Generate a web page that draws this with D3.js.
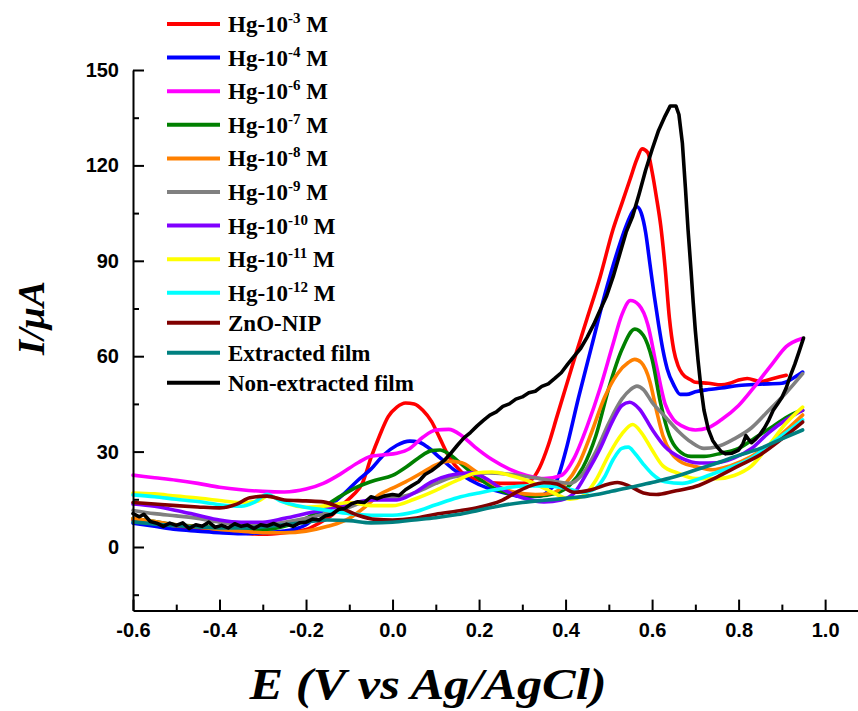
<!DOCTYPE html>
<html>
<head>
<meta charset="utf-8">
<script src="https://cdn.jsdelivr.net/npm/d3@7"></script>
<style>
  html, body { margin: 0; padding: 0; background: #fff; }
  svg { display: block; }
</style>
</head>
<body>
<svg id="chart" width="858" height="711"></svg>
<script>
// ---------- DATA ----------
const seriesNames = ["Hg-10^-3 M","Hg-10^-4 M","Hg-10^-6 M","Hg-10^-7 M","Hg-10^-8 M","Hg-10^-9 M","Hg-10^-10 M","Hg-10^-11 M","Hg-10^-12 M","ZnO-NIP","Extracted film","Non-extracted film"];
const legendBase = ["Hg-10","Hg-10","Hg-10","Hg-10","Hg-10","Hg-10","Hg-10","Hg-10","Hg-10","ZnO-NIP","Extracted film","Non-extracted film"];
const legendSup  = ["-3","-4","-6","-7","-8","-9","-10","-11","-12","","",""];
const legendTail = [" M"," M"," M"," M"," M"," M"," M"," M"," M","","",""];
const seriesColors = ["#FF0000","#0000FF","#FF00FF","#008000","#FF8000","#808080","#8000FF","#FFFF00","#00FFFF","#800000","#008080","#000000"];

const xTicks = [-0.6,-0.4,-0.2,0.0,0.2,0.4,0.6,0.8,1.0];
const xTickLabels = ["-0.6","-0.4","-0.2","0.0","0.2","0.4","0.6","0.8","1.0"];
const xMinorTicks = [-0.5,-0.3,-0.1,0.1,0.3,0.5,0.7,0.9];
const yTicks = [0,30,60,90,120,150];
const yTickLabels = ["0","30","60","90","120","150"];
const yMinorTicks = [-15,15,45,75,105,135];

// [E (V), I (uA)]
const hg3 = [[-0.6,8.5],[-0.55,7.5],[-0.5,6.5],[-0.45,5.5],[-0.4,5],[-0.35,4.5],[-0.3,4],[-0.25,4.5],[-0.2,5.5],[-0.17,7.5],[-0.14,10],[-0.11,14],[-0.09,16.5],[-0.07,20],[-0.05,28],[-0.03,35],[-0.01,41],[0.01,44],[0.03,45.3],[0.05,45],[0.07,43],[0.09,39.5],[0.11,34],[0.13,28.5],[0.16,23.5],[0.2,21],[0.25,20],[0.3,20],[0.32,21],[0.34,25],[0.36,32],[0.38,41],[0.4,50],[0.42,59],[0.45,72],[0.48,85],[0.51,100],[0.53,108],[0.55,116],[0.565,122],[0.577,125.2],[0.59,124],[0.6,118],[0.61,110],[0.62,101],[0.63,88],[0.64,72],[0.65,62],[0.66,57],[0.67,54.5],[0.69,52.5],[0.7,51.8],[0.73,51.5],[0.76,51],[0.78,51.5],[0.8,52.5],[0.82,53],[0.85,52],[0.88,53],[0.91,54]];
const hg4 = [[-0.6,7.5],[-0.55,6.5],[-0.5,5.5],[-0.45,5],[-0.4,4.5],[-0.35,4.2],[-0.3,4.5],[-0.25,5],[-0.2,7],[-0.17,10.5],[-0.14,13.5],[-0.11,17],[-0.08,21],[-0.05,24.5],[-0.02,29],[0.01,32],[0.04,33.3],[0.06,33],[0.08,31.5],[0.11,28],[0.14,24.5],[0.18,21],[0.22,18.5],[0.26,17],[0.3,15.8],[0.34,16],[0.36,17.5],[0.38,21],[0.4,30],[0.43,47],[0.46,63],[0.49,79],[0.52,93],[0.54,101],[0.555,105.5],[0.565,107],[0.575,105],[0.585,99],[0.595,89],[0.605,79],[0.615,70],[0.625,62],[0.635,56],[0.65,51],[0.665,48],[0.68,48],[0.7,48.8],[0.73,49.5],[0.76,50],[0.8,50.8],[0.85,51.2],[0.9,51.5],[0.925,53],[0.948,55]];
const hg6 = [[-0.6,22.6],[-0.55,21.8],[-0.5,21],[-0.45,20],[-0.4,18.8],[-0.35,18],[-0.3,17.5],[-0.25,17.3],[-0.2,18.2],[-0.16,20],[-0.12,23],[-0.08,26.5],[-0.05,28.5],[-0.02,29],[0.01,29.5],[0.04,31],[0.07,34.5],[0.1,36.8],[0.13,37],[0.16,35],[0.19,31.5],[0.23,27.5],[0.27,24.5],[0.31,22.5],[0.35,21.5],[0.39,22.5],[0.42,28],[0.45,38],[0.48,50],[0.51,64],[0.53,73],[0.55,77.5],[0.57,76],[0.59,70],[0.61,57],[0.63,45],[0.65,40],[0.67,38],[0.7,36.8],[0.73,37.5],[0.76,40],[0.8,44.5],[0.84,51],[0.88,58],[0.91,63],[0.945,65.5]];
const hg7 = [[-0.6,9],[-0.55,8],[-0.5,7],[-0.45,6.5],[-0.4,6],[-0.35,5.5],[-0.3,5.5],[-0.25,6.5],[-0.2,9],[-0.16,12.5],[-0.12,16],[-0.08,19],[-0.04,21],[0.0,22.5],[0.03,25],[0.06,28],[0.09,30.3],[0.11,30.5],[0.13,29.3],[0.16,26],[0.2,21.5],[0.24,18.2],[0.28,16.5],[0.33,16],[0.38,17],[0.41,19.5],[0.44,25],[0.47,35],[0.5,50],[0.53,62],[0.56,68.5],[0.58,66.5],[0.6,59],[0.62,45],[0.64,35],[0.66,30.5],[0.69,28.5],[0.72,28.5],[0.76,29.5],[0.8,31],[0.84,34.5],[0.88,38],[0.92,41.5],[0.948,43]];
const hg8 = [[-0.6,9],[-0.55,8],[-0.5,7],[-0.45,6.3],[-0.4,5.5],[-0.35,5],[-0.3,4.5],[-0.25,4.5],[-0.2,5],[-0.15,6.5],[-0.1,9],[-0.06,13],[-0.03,16.5],[0.0,18.5],[0.03,20.5],[0.07,23.5],[0.1,25.8],[0.13,27],[0.16,26.5],[0.19,24],[0.23,20],[0.28,17.3],[0.33,16.5],[0.37,17],[0.4,20],[0.43,26],[0.46,36],[0.49,47],[0.52,54.5],[0.545,58],[0.56,59],[0.575,58],[0.595,52],[0.61,43],[0.625,35],[0.645,29.5],[0.67,26.5],[0.7,25.3],[0.74,24.3],[0.78,25.5],[0.83,28.5],[0.87,32],[0.9,35.5],[0.948,41.5]];
const hg9 = [[-0.6,11.5],[-0.55,10.5],[-0.5,9.8],[-0.45,9],[-0.4,7.8],[-0.35,7],[-0.3,7],[-0.25,7.8],[-0.2,9],[-0.15,10.7],[-0.1,12.5],[-0.06,14.5],[-0.02,15.3],[0.02,15.8],[0.06,17.5],[0.1,20],[0.14,22],[0.18,22.8],[0.22,23.3],[0.26,23],[0.3,22.3],[0.34,21.5],[0.38,20.5],[0.41,20],[0.44,23],[0.47,30],[0.5,39],[0.53,46.5],[0.55,49.5],[0.565,50.6],[0.58,49.5],[0.6,45.5],[0.63,41],[0.66,36.5],[0.69,33],[0.72,31],[0.75,31.5],[0.79,34],[0.83,37.5],[0.87,43],[0.91,48.5],[0.948,54.5]];
const hg10 = [[-0.6,13.5],[-0.55,12.8],[-0.5,11.5],[-0.45,10],[-0.4,8.5],[-0.35,7.8],[-0.3,7.8],[-0.25,9],[-0.2,10.5],[-0.15,12],[-0.1,13.5],[-0.05,14.8],[0.01,14.8],[0.05,17],[0.09,20.5],[0.13,22.5],[0.18,23.3],[0.21,22],[0.25,18.5],[0.3,15.5],[0.35,14.2],[0.39,14.8],[0.42,17],[0.45,23.5],[0.48,31],[0.51,40],[0.53,44.5],[0.548,45.5],[0.57,43.5],[0.6,37],[0.63,31.5],[0.67,27.8],[0.71,26.4],[0.75,26.5],[0.79,28],[0.83,31],[0.87,36],[0.91,40],[0.948,43]];
const hg11 = [[-0.6,17],[-0.55,16.7],[-0.5,16],[-0.45,15.4],[-0.4,14.6],[-0.35,14],[-0.31,14.5],[-0.29,16],[-0.27,15.5],[-0.24,13.5],[-0.2,12.5],[-0.15,13],[-0.1,14],[-0.05,13],[0.0,13],[0.05,15],[0.1,17.8],[0.15,21],[0.19,23.2],[0.23,23.6],[0.27,22.6],[0.31,21],[0.35,18.5],[0.38,16.5],[0.41,15],[0.44,16],[0.47,21],[0.5,29],[0.53,35.5],[0.555,38.5],[0.575,36],[0.6,30.5],[0.625,25.5],[0.66,23.2],[0.7,21.5],[0.75,21.5],[0.79,22.5],[0.83,25.5],[0.87,32],[0.91,39],[0.948,44]];
const hg12 = [[-0.6,16.4],[-0.55,15.8],[-0.5,15],[-0.45,14.3],[-0.4,13.3],[-0.35,12.8],[-0.32,14],[-0.29,16.6],[-0.26,14.5],[-0.22,13],[-0.15,11.5],[-0.1,10.5],[-0.05,10],[0.0,10],[0.05,11],[0.1,13.3],[0.15,15.5],[0.2,17],[0.25,18.3],[0.3,19.2],[0.35,19.2],[0.4,18.5],[0.44,17.2],[0.47,18.5],[0.49,22],[0.51,27.5],[0.53,31],[0.545,31.4],[0.56,29.5],[0.58,26],[0.6,23],[0.63,20.5],[0.67,20],[0.71,21.5],[0.75,23.5],[0.79,25.5],[0.83,28],[0.87,32],[0.91,36],[0.948,40]];
const znoNip = [[-0.6,14],[-0.55,13.5],[-0.5,13],[-0.45,12.6],[-0.4,12.3],[-0.36,13.5],[-0.33,15.5],[-0.29,16],[-0.25,14.8],[-0.2,14.5],[-0.16,14.2],[-0.12,12.3],[-0.08,10],[-0.04,8.7],[0.0,8.5],[0.05,9],[0.1,10.3],[0.15,11.3],[0.2,12.5],[0.25,14.5],[0.29,17.5],[0.32,19.3],[0.35,20.2],[0.38,19.8],[0.42,17.2],[0.46,18],[0.5,19.8],[0.52,20.3],[0.55,19],[0.58,17],[0.61,16.5],[0.65,17.5],[0.7,19],[0.75,22],[0.8,25.5],[0.85,29],[0.9,34],[0.948,39.3]];
const extracted = [[-0.6,7.9],[-0.55,7.2],[-0.5,6.7],[-0.45,6.3],[-0.4,6],[-0.35,6],[-0.3,6.3],[-0.25,7],[-0.2,7.8],[-0.15,8.5],[-0.1,8.3],[-0.05,7.6],[0.0,7.8],[0.05,8.5],[0.1,9.2],[0.15,10.2],[0.2,11.6],[0.25,13],[0.3,14],[0.35,14.7],[0.4,15.3],[0.45,16],[0.5,17.3],[0.55,18.8],[0.6,20.3],[0.65,22],[0.7,24.2],[0.75,26.4],[0.8,28.8],[0.85,31],[0.9,34],[0.948,36.8]];
const nonExtracted = [[-0.6,10.5],[-0.585,9.5],[-0.575,10.3],[-0.56,8],[-0.545,7.5],[-0.53,6.5],[-0.515,7.5],[-0.5,6.8],[-0.485,7.6],[-0.47,5.8],[-0.455,7],[-0.44,6.5],[-0.425,7.8],[-0.41,6.2],[-0.395,6.8],[-0.38,6],[-0.365,7.3],[-0.35,6.5],[-0.335,6.9],[-0.32,5.8],[-0.305,7],[-0.29,6.6],[-0.275,7.4],[-0.26,6.5],[-0.245,7.2],[-0.23,6.5],[-0.215,7.6],[-0.2,7.8],[-0.185,8.8],[-0.17,8.5],[-0.155,9.8],[-0.14,10.3],[-0.125,11.8],[-0.11,12.2],[-0.095,13.6],[-0.08,14.2],[-0.065,14],[-0.05,15.8],[-0.035,15.2],[-0.02,16],[0.0,16.5],[0.015,16.2],[0.03,18],[0.045,19.3],[0.06,20.5],[0.075,22.8],[0.09,24],[0.105,25.5],[0.12,27.3],[0.135,29.5],[0.15,32],[0.165,34.3],[0.18,36],[0.195,38],[0.21,39.8],[0.225,41.5],[0.24,42.5],[0.255,44.2],[0.27,45],[0.285,46.5],[0.3,47.2],[0.315,48.5],[0.33,49],[0.345,50.5],[0.36,51.3],[0.375,53],[0.39,54.8],[0.405,57.5],[0.42,60],[0.435,62.5],[0.45,66],[0.465,70],[0.48,74.5],[0.495,79],[0.51,85],[0.525,92],[0.54,99],[0.555,104],[0.57,111],[0.585,118.5],[0.6,125],[0.615,131],[0.63,135.5],[0.642,138.7],[0.655,138.7],[0.662,136],[0.67,127],[0.677,113],[0.683,100],[0.69,87],[0.695,77],[0.7,68],[0.706,59],[0.713,50],[0.72,43],[0.73,37],[0.74,33.5],[0.75,31.5],[0.76,30],[0.77,29.3],[0.785,29.5],[0.8,30.5],[0.81,32.5],[0.817,35],[0.822,34],[0.83,32.8],[0.84,34],[0.85,35.5],[0.86,37.5],[0.87,40],[0.88,43],[0.89,45],[0.9,47],[0.91,50],[0.92,54],[0.93,57.5],[0.94,61.5],[0.95,65.7]];

const seriesData = [hg3, hg4, hg6, hg7, hg8, hg9, hg10, hg11, hg12, znoNip, extracted, nonExtracted];

// ---------- CHART ----------
const svg = d3.select("#chart");
const x = d3.scaleLinear().domain([-0.6, 1.076]).range([133, 858]);
const y = d3.scaleLinear().domain([-20, 150]).range([610.6, 70]);

const tickFont = "'Liberation Sans', Arial, sans-serif";
const serif = "'Liberation Serif', 'Times New Roman', serif";

// curves
const line = d3.line().x(d => x(d[0])).y(d => y(d[1])).curve(d3.curveMonotoneX);
const lineLin = d3.line().x(d => x(d[0])).y(d => y(d[1])).curve(d3.curveLinear);
svg.append("g").selectAll("path").data(seriesData).join("path")
  .attr("d", (d, i) => i === 11 ? lineLin(d) : line(d))
  .attr("fill", "none")
  .attr("stroke", (d, i) => seriesColors[i])
  .attr("stroke-width", 3.6)
  .attr("stroke-linejoin", "round")
  .attr("stroke-linecap", "round");

// axes
const xAxis = d3.axisBottom(x).tickValues(xTicks).tickFormat((d, i) => xTickLabels[i])
  .tickSizeInner(-11).tickSizeOuter(0).tickPadding(12);
const xMinor = d3.axisBottom(x).tickValues(xMinorTicks).tickFormat("").tickSizeInner(-6).tickSizeOuter(0);
const yAxis = d3.axisLeft(y).tickValues(yTicks).tickFormat((d, i) => yTickLabels[i])
  .tickSizeInner(-11).tickSizeOuter(0).tickPadding(14);
const yMinor = d3.axisLeft(y).tickValues(yMinorTicks).tickFormat("").tickSizeInner(-6).tickSizeOuter(0);

const gx = svg.append("g").attr("transform", `translate(0,${y(-20)})`).call(xAxis);
const gxm = svg.append("g").attr("transform", `translate(0,${y(-20)})`).call(xMinor);
const gy = svg.append("g").attr("transform", `translate(${x(-0.6)},0)`).call(yAxis);
const gym = svg.append("g").attr("transform", `translate(${x(-0.6)},0)`).call(yMinor);
[gx, gxm, gy, gym].forEach(g => {
  g.selectAll("path.domain").attr("stroke", "#000").attr("stroke-width", 2);
  g.selectAll(".tick line").attr("stroke", "#000").attr("stroke-width", 2);
  g.selectAll(".tick text").attr("fill", "#000")
    .style("font-family", tickFont).style("font-weight", "bold").style("font-size", "20px");
});
gxm.select("path.domain").remove();
gym.select("path.domain").remove();

// axis titles
svg.append("text")
  .attr("x", 428).attr("y", 699)
  .attr("text-anchor", "middle")
  .attr("textLength", 357).attr("lengthAdjust", "spacingAndGlyphs")
  .style("font-family", serif).style("font-weight", "bold").style("font-style", "italic")
  .style("font-size", "45px")
  .text("E (V vs Ag/AgCl)");

svg.append("text")
  .attr("transform", "translate(44,318) rotate(-90)")
  .attr("text-anchor", "middle")
  .attr("textLength", 74).attr("lengthAdjust", "spacingAndGlyphs")
  .style("font-family", serif).style("font-weight", "bold").style("font-style", "italic")
  .style("font-size", "38px")
  .text("I/\u03BCA");

// legend
const rowY = i => i < 9 ? 24 + i * 33.6 : 24 + 8 * 33.6 + (i - 8) * 30;
const lg = svg.append("g");
const rows = lg.selectAll("g").data(seriesNames).join("g")
  .attr("transform", (d, i) => `translate(0,${rowY(i)})`);
rows.append("line")
  .attr("x1", 167).attr("x2", 220).attr("y1", 0).attr("y2", 0)
  .attr("stroke", (d, i) => seriesColors[i]).attr("stroke-width", 4);
const txt = rows.append("text")
  .attr("x", 228).attr("y", 8)
  .style("font-family", serif).style("font-weight", "bold").style("font-size", "23px")
  .attr("fill", "#000");
txt.append("tspan").text((d, i) => legendBase[i]);
txt.append("tspan").attr("dy", -9).style("font-size", "15px").text((d, i) => legendSup[i]);
txt.append("tspan").attr("dy", 9).text((d, i) => legendTail[i]);
</script>
</body>
</html>
